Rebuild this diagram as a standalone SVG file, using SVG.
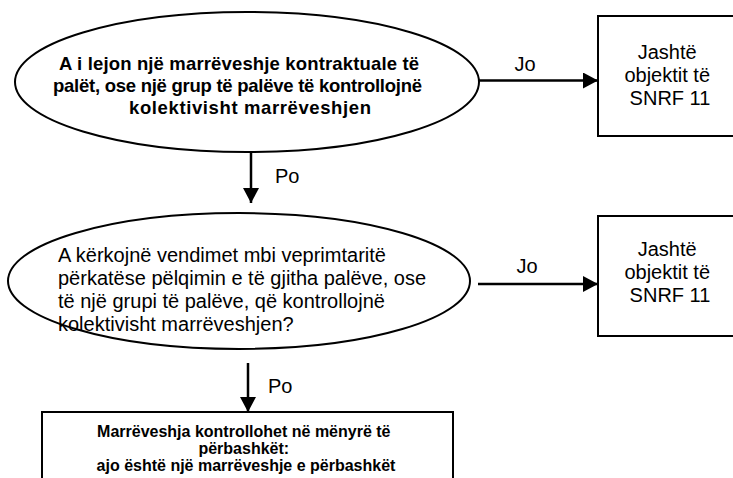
<svg xmlns="http://www.w3.org/2000/svg" width="733" height="478" viewBox="0 0 733 478">
<style>
.shape{fill:#fff;stroke:#000;stroke-width:2}
.conn{stroke:#000;stroke-width:2.5;fill:none}
.t{font-family:"Liberation Sans",Arial,sans-serif;fill:#000}
.reg{font-size:20px}
.b18{font-size:18.5px;font-weight:bold}
.b15{font-size:16px;font-weight:bold}
.lbl{font-size:20px}
</style>
<defs>
<marker id="ah" markerUnits="userSpaceOnUse" markerWidth="16" markerHeight="16" refX="15" refY="8" orient="auto">
<path d="M0,0 L15,8 L0,16 Z" fill="#000"/>
</marker>
</defs>
<rect width="733" height="478" fill="#fff"/>
<g id="connectors">
<line class="conn" x1="479" y1="80.5" x2="598" y2="80.5" marker-end="url(#ah)"/>
<line class="conn" x1="478" y1="284" x2="598" y2="284" marker-end="url(#ah)"/>
<line class="conn" x1="251" y1="152" x2="251" y2="203" marker-end="url(#ah)"/>
<line class="conn" x1="248" y1="363" x2="248" y2="412" marker-end="url(#ah)"/>
<text class="t lbl" x="525" y="71" text-anchor="middle">Jo</text>
<text class="t lbl" x="527" y="273" text-anchor="middle">Jo</text>
<text class="t lbl" x="275" y="183">Po</text>
<text class="t lbl" x="268" y="393">Po</text>
</g>
<g id="q1">
<ellipse class="shape" cx="247" cy="82" rx="232" ry="70"/>
<text class="t b18">
<tspan x="59" y="70" textLength="360" lengthAdjust="spacing">A i lejon një marrëveshje kontraktuale të</tspan>
<tspan x="53" y="92" textLength="369" lengthAdjust="spacing">palët, ose një grup të palëve të kontrollojnë</tspan>
<tspan x="129" y="114" textLength="242" lengthAdjust="spacing">kolektivisht marrëveshjen</tspan>
</text>
</g>
<g id="out1">
<rect class="shape" x="598" y="16" width="150" height="120"/>
<text class="t reg" text-anchor="middle">
<tspan x="670" y="59">Jashtë</tspan>
<tspan x="670" y="82">objektit të</tspan>
<tspan x="670" y="105">SNRF 11</tspan>
</text>
</g>
<g id="q2">
<ellipse class="shape" cx="239" cy="281" rx="231" ry="68"/>
<text class="t reg">
<tspan x="58" y="262">A kërkojnë vendimet mbi veprimtaritë</tspan>
<tspan x="58" y="285">përkatëse pëlqimin e të gjitha palëve, ose</tspan>
<tspan x="58" y="308">të një grupi të palëve, që kontrollojnë</tspan>
<tspan x="58" y="331">kolektivisht marrëveshjen?</tspan>
</text>
</g>
<g id="out2">
<rect class="shape" x="598" y="216" width="150" height="120"/>
<text class="t reg" text-anchor="middle">
<tspan x="670" y="256">Jashtë</tspan>
<tspan x="670" y="279">objektit të</tspan>
<tspan x="670" y="302">SNRF 11</tspan>
</text>
</g>
<g id="result">
<rect class="shape" x="42" y="412" width="411" height="90"/>
<text class="t b15" text-anchor="middle">
<tspan x="246" y="437">Marrëveshja kontrollohet në mënyrë të</tspan>
<tspan x="246" y="454">përbashkët:</tspan>
<tspan x="246" y="471">ajo është një marrëveshje e përbashkët</tspan>
</text>
</g>
</svg>
